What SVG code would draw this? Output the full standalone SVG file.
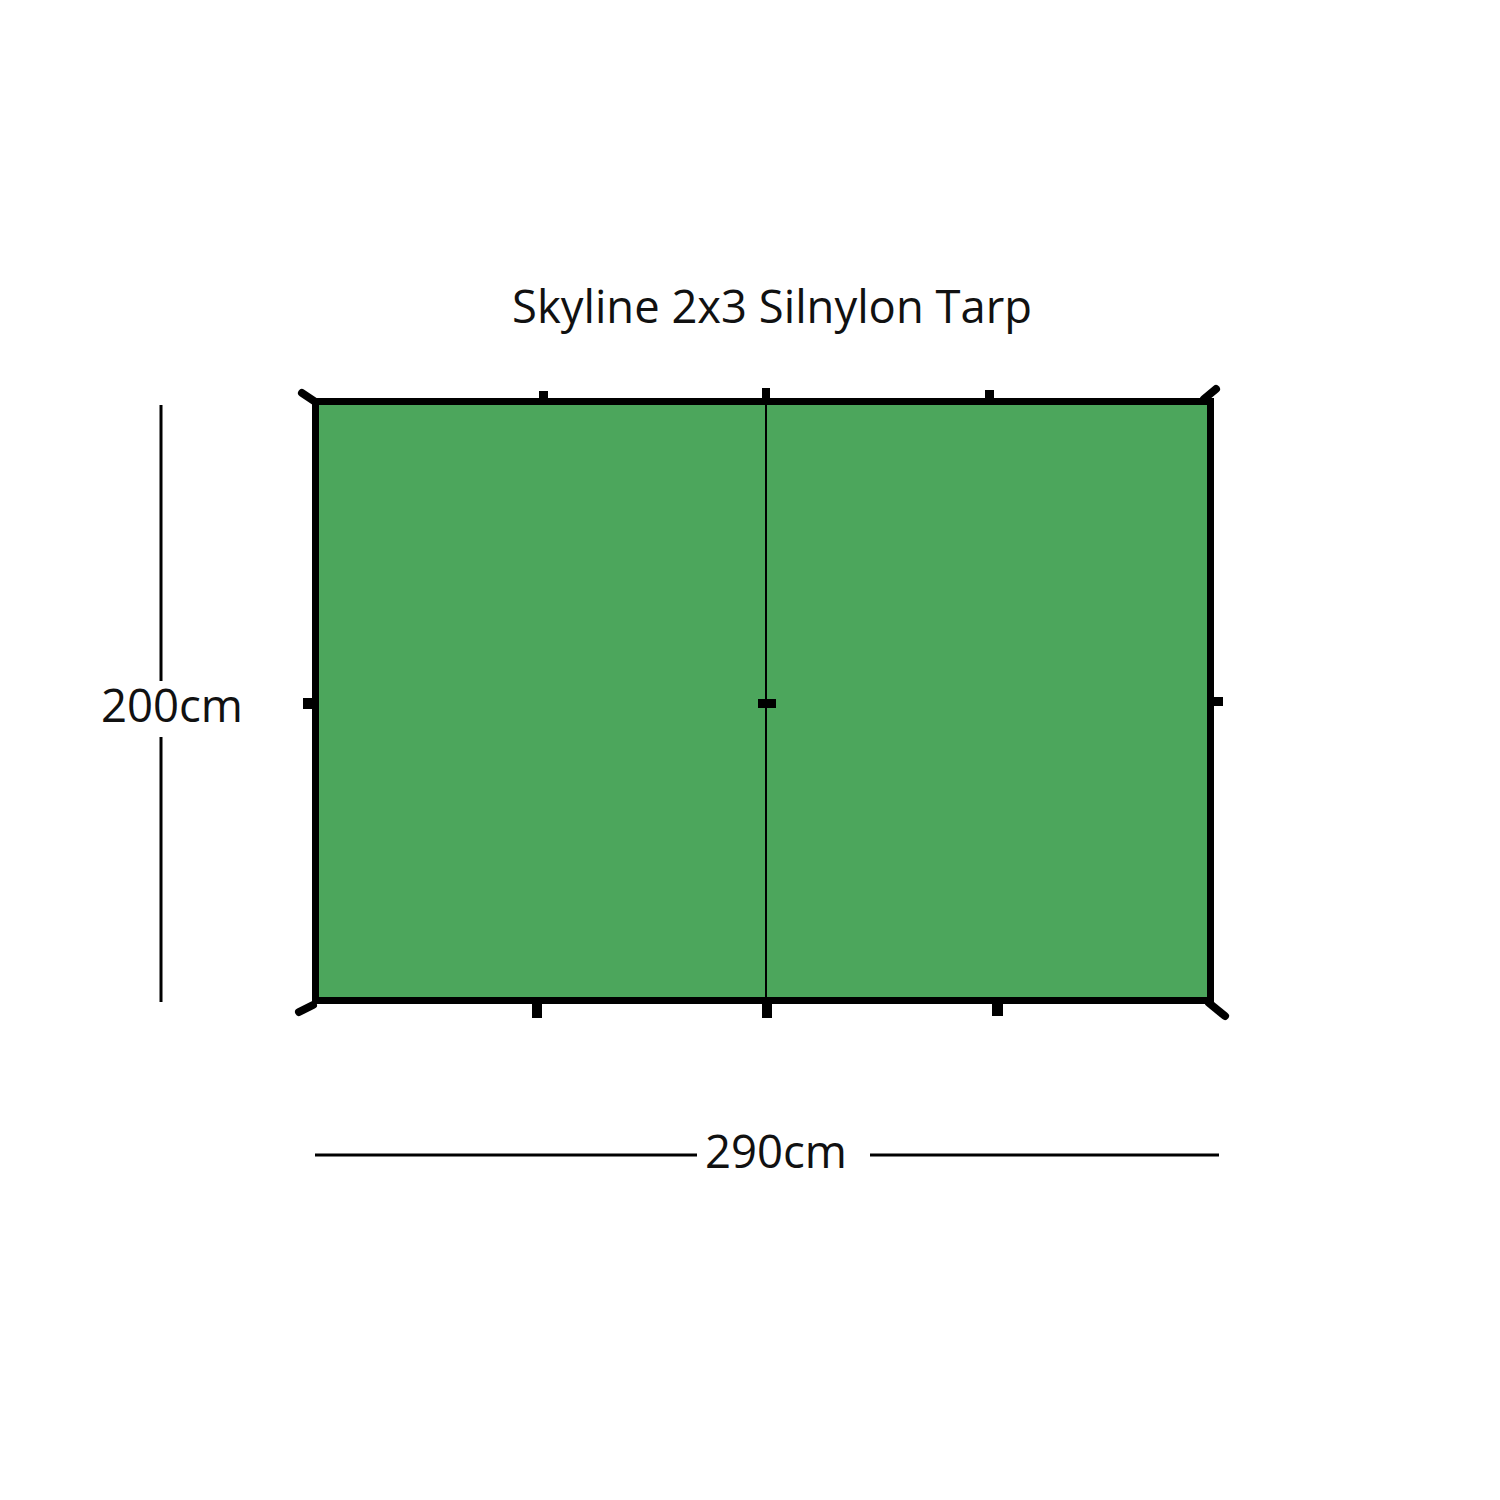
<svg xmlns="http://www.w3.org/2000/svg" width="1500" height="1500" viewBox="0 0 1500 1500">
<style>
.t{font-family:"Open Sans","Liberation Sans",sans-serif;font-size:46px;fill:#111}
.dim{stroke:#000;stroke-width:3;fill:none}
.k{fill:#000}
.c{stroke:#000;stroke-width:8;stroke-linecap:round;fill:none}
</style>
<rect width="1500" height="1500" fill="#fff"/>
<text class="t" x="512" y="323" textLength="520" lengthAdjust="spacingAndGlyphs">Skyline 2x3 Silnylon Tarp</text>
<g id="tarp">
<rect x="315.5" y="401.5" width="895" height="599" fill="#4ca65c" stroke="#000" stroke-width="7"/>
<line x1="766" y1="401" x2="766" y2="1001" stroke="#000" stroke-width="2"/>
</g>
<g id="corners">
<line class="c" x1="302" y1="393" x2="314" y2="401"/>
<line class="c" x1="1204" y1="399" x2="1216" y2="389"/>
<line class="c" x1="299" y1="1012" x2="313" y2="1005"/>
<line class="c" x1="1209" y1="1003" x2="1225" y2="1016"/>
</g>
<g id="ticks">
<rect class="k" x="539" y="391" width="9" height="8"/>
<rect class="k" x="762" y="388" width="8" height="11"/>
<rect class="k" x="985" y="390" width="9" height="9"/>
<rect class="k" x="532" y="1003" width="10" height="15"/>
<rect class="k" x="762" y="1003" width="10" height="15"/>
<rect class="k" x="992" y="1003" width="11" height="13"/>
<rect class="k" x="758" y="699" width="18" height="9"/>
<rect class="k" x="303" y="698" width="10" height="11"/>
<rect class="k" x="1213" y="697" width="10" height="9"/>
</g>
<g id="dimensions">
<line class="dim" x1="161" y1="405" x2="161" y2="681"/>
<line class="dim" x1="161" y1="737" x2="161" y2="1002"/>
<text class="t" x="101" y="722" textLength="142" lengthAdjust="spacingAndGlyphs">200cm</text>
<line class="dim" x1="315" y1="1155" x2="697" y2="1155"/>
<line class="dim" x1="870" y1="1155" x2="1219" y2="1155"/>
<text class="t" x="705" y="1168" textLength="142" lengthAdjust="spacingAndGlyphs">290cm</text>
</g>
</svg>
